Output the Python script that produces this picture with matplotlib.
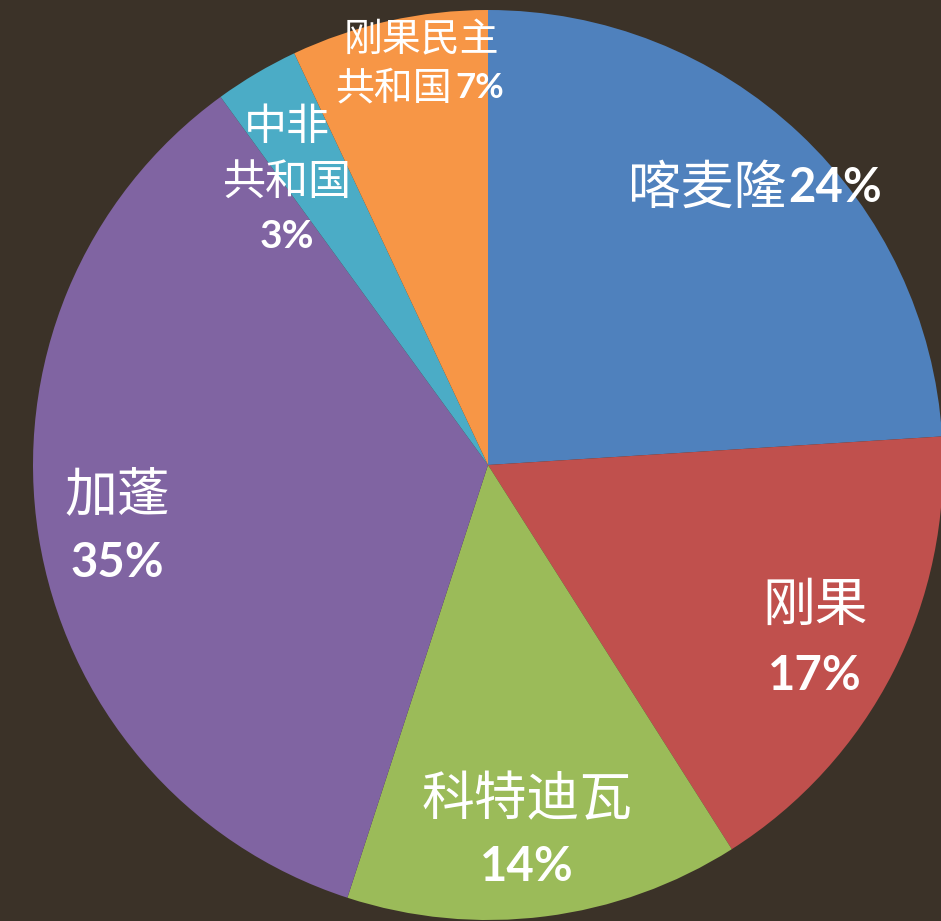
import matplotlib
matplotlib.use('Agg')
import matplotlib.pyplot as plt

# pie data (percent), clockwise from 12 o'clock
countries = ['喀麦隆', '刚果', '科特迪瓦', '加蓬', '中非共和国', '刚果民主共和国']
shares = [24, 17, 14, 35, 3, 7]
colors = ['#4F81BD', '#C0504D', '#9BBB59', '#8064A2', '#4BACC6', '#F79646']

W, H = 941, 921
fig = plt.figure(figsize=(W / 100, H / 100), dpi=100)
fig.patch.set_facecolor('#3b3228')
ax = fig.add_axes([0, 0, 1, 1])
ax.set_facecolor('#3b3228')

# work in pixel units, y measured from top
ax.pie(shares, colors=colors, startangle=90, counterclock=False,
       radius=455, center=(488, H - 465), frame=True,
       wedgeprops=dict(linewidth=0))
ax.set_xlim(0, W)
ax.set_ylim(0, H)
ax.set_aspect('equal')
ax.axis('off')

cjk = ['Noto Sans CJK SC', 'DejaVu Sans']
num = ['Lato', 'DejaVu Sans']


def name(x, y, s, size, ha='center'):
    ax.text(x, H - y, s, color='white', fontsize=size, family=cjk,
            ha=ha, va='center')


def pct(x, y, s, size, ha='center'):
    ax.text(x, H - y, s, color='white', fontsize=size, family=num,
            weight='bold', ha=ha, va='center')


lab = [f'{v}%' for v in shares]

# 喀麦隆
name(786, 188, countries[0], 38, ha='right')
pct(788, 188, lab[0], 34, ha='left')
# 刚果
name(815, 605, countries[1], 38)
pct(815, 676, lab[1], 34)
# 科特迪瓦
name(527, 800, countries[2], 38)
pct(527, 867, lab[2], 34)
# 加蓬
name(117, 495, countries[3], 38)
pct(117, 563, lab[3], 34)
# 中非共和国
name(287, 128, countries[4][:2], 31)
name(287, 183, countries[4][2:], 31)
pct(287, 237, lab[4], 28)
# 刚果民主共和国
name(421, 40, countries[5][:4], 28)
name(452, 88, countries[5][4:], 28, ha='right')
pct(455, 88, lab[5], 25, ha='left')

plt.savefig('out.png', dpi=100, facecolor=fig.get_facecolor())
